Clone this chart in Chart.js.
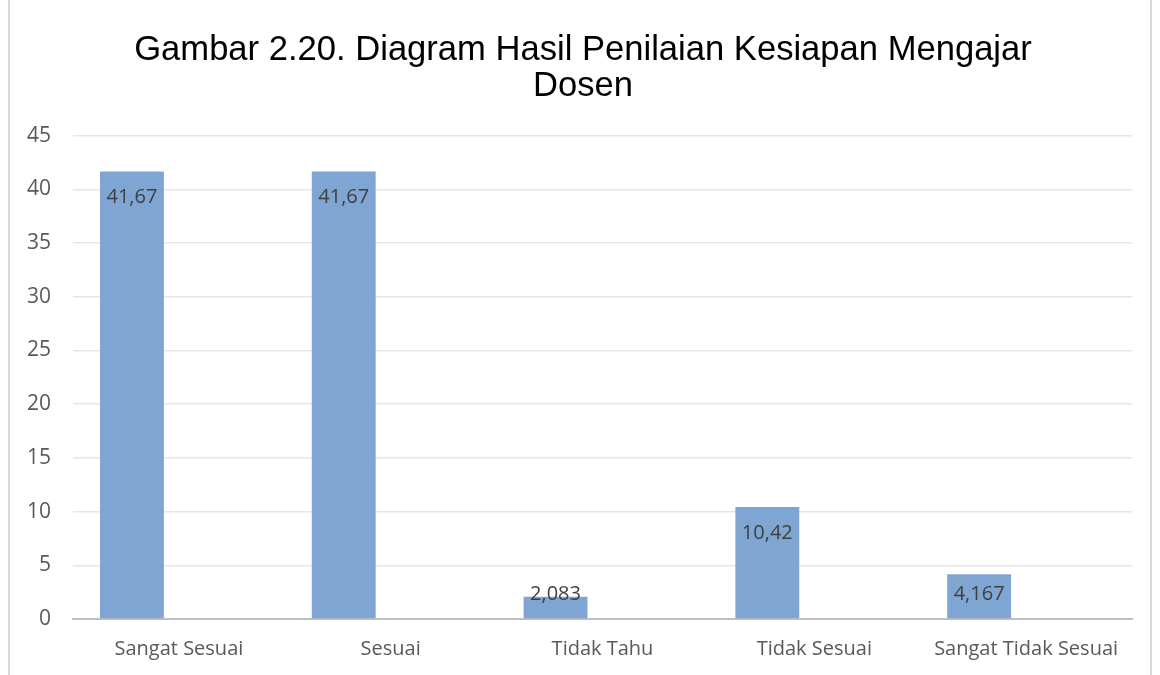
<!DOCTYPE html>
<html>
<head>
<meta charset="utf-8">
<script src="https://cdn.jsdelivr.net/npm/chart.js@4"></script>
<style>
  html, body { margin: 0; padding: 0; background: #fff; }
  #wrap { position: relative; width: 1160px; height: 675px; }
  #frame { position: absolute; left: 8px; top: 0; width: 1144px; height: 675px;
           border-left: 2px solid #d9d9d9; border-right: 2px solid #d9d9d9; box-sizing: border-box; }
  canvas { position: absolute; left: 0; top: 0; }
</style>
</head>
<body>
<div id="wrap">
  <div id="frame"></div>
  <canvas id="drawChart" width="1160" height="675"></canvas>
</div>
<script>
// data
const categories = ["Sangat Sesuai", "Sesuai", "Tidak Tahu", "Tidak Sesuai", "Sangat Tidak Sesuai"];
const values = [41.67, 41.67, 2.083, 10.42, 4.167];
const valueLabels = ["41,67", "41,67", "2,083", "10,42", "4,167"];
const emptySeries = [null, null, null, null, null];
const yTicks = [0, 5, 10, 15, 20, 25, 30, 35, 40, 45];
const titleLines = ["Gambar 2.20. Diagram Hasil Penilaian Kesiapan Mengajar", "Dosen"];

const labelFont = "'Open Sans', 'Noto Sans', sans-serif";

// draw value labels inside the end of each bar
const barLabels = {
  id: "barLabels",
  afterDatasetsDraw(chart) {
    const ctx = chart.ctx;
    const meta = chart.getDatasetMeta(0);
    ctx.save();
    ctx.font = "20px " + labelFont;
    ctx.fillStyle = "#404040";
    ctx.textAlign = "center";
    ctx.textBaseline = "middle";
    meta.data.forEach((bar, i) => {
      const y = Math.min(bar.y + 26, bar.base - 24);
      ctx.fillText(valueLabels[i], bar.x, y);
    });
    ctx.restore();
  }
};

// title sits a little right of the canvas centre
const shiftTitle = {
  id: "shiftTitle",
  afterLayout(chart) {
    if (chart.titleBlock) chart.titleBlock.left += 34;
  }
};

new Chart(document.getElementById("drawChart"), {
  type: "bar",
  data: {
    labels: categories,
    datasets: [{
      data: values,
      backgroundColor: "#7fa5d2",
      categoryPercentage: 0.887,
      barPercentage: 0.68
    }, {
      data: emptySeries,
      categoryPercentage: 0.887,
      barPercentage: 0.68
    }]
  },
  options: {
    responsive: false,
    animation: false,
    layout: { padding: { left: 0, right: 28, top: 0, bottom: 0 } },
    plugins: {
      legend: { display: false },
      tooltip: { enabled: false },
      title: {
        display: true,
        text: titleLines,
        color: "#000",
        font: { family: "'Liberation Sans', Arial, sans-serif", size: 34.6, weight: "normal", lineHeight: 1.05 },
        padding: { top: 32, bottom: 31 }
      }
    },
    scales: {
      x: {
        grid: { display: false, drawTicks: false },
        border: { color: "#bfbfbf", width: 2 },
        ticks: { color: "#595959", font: { family: labelFont, size: 20 }, padding: 18, maxRotation: 0, autoSkip: false },
        afterFit: (s) => { s.height = 56; }
      },
      y: {
        min: 0,
        max: 45,
        afterBuildTicks: (s) => { s.ticks = yTicks.map(v => ({ value: v })); },
        grid: { color: "#e6e6e6", lineWidth: 1.5, drawTicks: false },
        border: { display: false },
        ticks: { color: "#595959", font: { family: labelFont, size: 21 }, padding: 22 },
        afterFit: (s) => { s.width = 73; }
      }
    }
  },
  plugins: [barLabels, shiftTitle]
});
</script>
</body>
</html>
